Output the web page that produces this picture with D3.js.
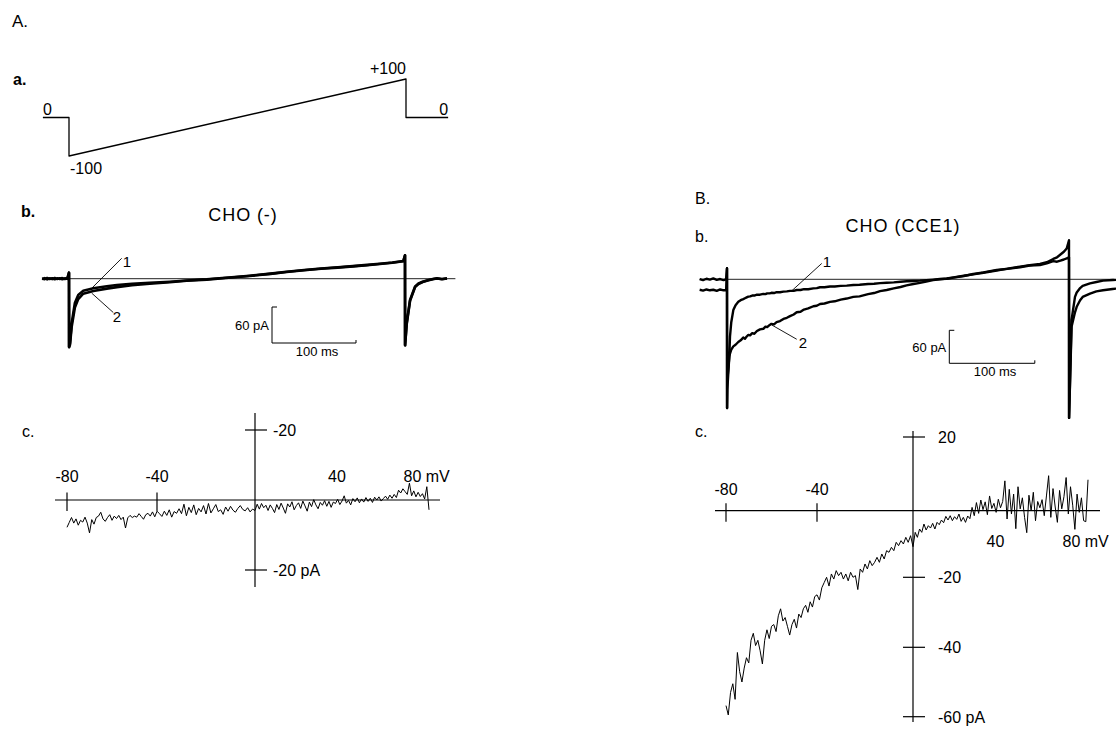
<!DOCTYPE html>
<html>
<head>
<meta charset="utf-8">
<title>CHO ramp currents</title>
<script src="https://cdn.jsdelivr.net/npm/d3@7/dist/d3.min.js"></script>
<style>
body { margin: 0; background: #fff; }
svg { display: block; font-family: "Liberation Sans", Arial, sans-serif; }
.trace { fill: none; stroke: #000; stroke-linejoin: round; }
.ref { stroke: #222; stroke-width: 1; }
.axis { stroke: #000; stroke-width: 1.2; fill: none; }
</style>
</head>
<body>
<script>
// voltage protocol (ms, mV)
var protoTime = [-31, 0, 0, 400, 400, 450];
var protoMv = [0, 0, -100, 100, 0, 0];

// A.b  CHO (-) ramp currents (ms, pA)
var abTime = [-32, -29, -26, -23, -20, -17, -14, -11, -8, -5, -2, 0, 0.1,
    1.2, 3.2, 7, 11, 17, 29, 45, 57, 75, 96, 120, 140, 164, 190, 215, 240, 259,
    280, 300, 320, 338, 355, 370, 385, 398, 400, 400.1,
    402, 406, 412, 416, 421, 427, 433, 438, 444, 450];
var abTrace1 = [0.5, -0.8, 1.2, -0.5, 0.8, -1.0, 0.6, -0.4, 1.0, -0.6, 0.3, 10, -114,
    -107, -74, -40.5, -27, -20, -16, -12.5, -10.5, -8.5, -7, -5, -3, -1, 2, 5, 8.5, 11.7,
    14.5, 17, 19, 21, 23, 25, 27, 29.5, 39, -111,
    -74, -35.5, -13, -8, -5, -2.5, -0.5, 0.6, -0.4, 0.3];
var abTrace2 = [-0.4, 0.9, -1.1, 0.6, -0.7, 1.1, -0.5, 0.7, -0.9, 0.5, -0.2, 10, -114,
    -110, -80, -48, -34, -25, -20.5, -16.5, -14, -11, -8.5, -6, -3.5, -1.5, 1.5, 4.5, 8, 11.2,
    14, 16.5, 18.5, 20.5, 22.5, 24.5, 26.5, 29, 39, -111,
    -76, -37, -14, -9, -5.5, -3, -1, 0.2, -0.8, 0.5];

// B.b  CHO (CCE1) ramp currents (ms, pA)
var bbTime = [-32, -28, -24, -20, -16, -12, -8, -4, -1,
    0, 0.1, 0.4, 2.7, 3.5, 5, 7.4, 10, 13.2, 16, 19, 21, 23, 25, 27, 29.5, 32, 35,
    38.6, 42.5, 45, 47, 50, 52, 55, 58, 62, 66, 70, 73.7, 78, 81.5, 86, 90, 95, 101,
    105, 108.8, 114, 120.5, 126, 133, 140, 147.7, 155, 165, 172, 179, 186.8, 195, 203,
    210, 218, 225.7, 233, 241, 249, 257, 265, 277, 288, 300, 315.4, 328, 342.7, 354,
    366, 374, 381.6, 386, 390, 394, 397.3, 400, 400.1, 403, 407, 409, 413, 416, 424.6,
    432, 439.8, 451, 455];
var bbTrace1 = [0.5, -1.5, 1, -0.5, 1.5, -1, 0.5, -1.5, 0.5,
    20, -234, -200, -140, -104, -78, -56, -47, -41, -38, -36, -34.5, -33, -31.5, -31, -29.5, -29.5, -28,
    -28, -26.5, -27, -25.5, -25.5, -24.5, -25, -23.5, -23.5, -22.5, -22, -21, -21, -19.5, -19.5, -18, -18, -16.5,
    -16, -14.5, -14.5, -13, -13, -12, -11.5, -10.4, -10, -8.5, -8, -7, -6.2, -5.5, -4.5,
    -3.5, -3, -2.5, -1.5, -0.5, 0.5, 1, 3, 6, 9.6, 12.5, 17, 19, 22, 25,
    26, 29, 33, 32, 34, 36, 38, 40, -252, -74, -32, -24, -16, -12, -7.3,
    -5, -2.5, -1.3, -1];
var bbTrace2 = [-19, -20.5, -18.5, -20, -19, -21, -18.5, -20, -19.5,
    20, -234, -183, -141, -135, -128, -122, -119, -114, -111, -106, -108, -104, -101, -102, -98, -99, -94,
    -91, -90, -86, -87, -83, -81, -82, -78, -76, -72, -70, -67, -64, -60, -59, -55, -53, -49,
    -48, -45, -44, -41, -40, -37, -35, -32, -31, -27, -25, -21.5, -19.5, -16.5, -14,
    -11, -8.5, -6.5, -4, -1.5, 0, 1.5, 3.6, 6.5, 9, 12, 16, 19.5, 23, 25.5,
    28, 31, 37, 40, 45, 50, 56, 71, -252, -86, -60, -50, -38, -32, -26,
    -22, -20, -17.6, -17];

// I-V curves, one value per mV from -80 to +80 (pA)
var ivMv = d3.range(-80, 81);
var ivCurrentA = [
    -7.8, -6.4, -5.0, -6.6, -5.4, -7.2, -5.8, -6.3, -4.9, -6.6,
    -9.4, -5.6, -6.9, -5.0, -4.6, -3.5, -5.4, -6.1, -5.0, -4.2,
    -5.8, -4.6, -5.3, -4.4, -5.6, -4.9, -8.0, -5.1, -4.4, -5.0,
    -4.6, -4.9, -3.9, -4.7, -5.5, -4.2, -3.8, -4.6, -3.4, -4.8,
    -3.2, -3.9, -4.7, -3.2, -4.4, -2.8, -4.9, -3.3, -3.8, -2.5,
    -3.9, -1.2, -4.5, -2.1, -3.6, -1.4, -4.2, -2.4, -3.4, -1.6,
    -4.0, -1.0, -3.7, -2.5, -1.3, -3.3, -2.8, -4.1, -2.0, -3.2,
    -1.8, -2.9, -3.5, -2.4, -1.6, -2.7, -3.1, -2.2, -3.4, -2.6,
    -3.0, -1.2, -2.6, -1.0, -2.2, -1.5, -3.0, -1.4, -2.4, -3.6,
    -1.3, -2.7, -0.9, -2.3, -3.8, -1.1, -2.0, -0.5, -2.8, -1.6,
    -0.8, -2.4, -0.3, -1.7, -3.2, -0.6, -1.9, 0.1, -1.4, -2.5,
    -0.7, -1.5, -0.2, -1.8, -0.4, -2.1, -0.6, -1.0, 0.2, -1.3,
    -0.3, 1.2, -0.9, -0.1, -1.4, 0.4, -0.5, 0.6, -0.8, 0.3,
    -0.6, 0.7, -0.4, 0.5, -0.7, 0.8, 0.0, 0.9, -0.3, 0.4,
    1.1, 0.2, 1.4, 0.5, 1.6, 0.7, 2.8, 2.0, 3.2, 2.4,
    1.6, 4.8, 1.2, 2.6, 0.9, 2.2, 1.0, 1.8, 0.3, 3.8,
    -2.8];
var ivCurrentB = [
    -56.8, -59.5, -53.0, -50.5, -55.0, -41.5, -47.0, -50.0, -46.0, -43.0,
    -44.5, -38.0, -36.0, -39.5, -38.0, -41.0, -44.8, -38.0, -35.0, -37.5,
    -34.0, -33.5, -35.5, -31.0, -29.0, -32.5, -31.5, -34.0, -36.5, -33.5,
    -32.0, -34.5, -30.5, -31.5, -29.0, -28.0, -30.0, -27.0, -28.5, -25.5,
    -25.0, -26.5, -23.0, -21.5, -20.0, -22.5, -19.0, -20.5, -18.0, -19.5,
    -18.5, -20.5, -19.0, -21.0, -18.5, -20.0, -19.5, -23.5, -17.5, -18.5,
    -16.0, -17.5, -15.0, -16.5, -15.5, -14.0, -15.5, -13.0, -14.5, -12.0,
    -12.5, -11.0, -12.0, -9.5, -10.5, -9.0, -10.0, -8.0, -9.5, -7.5,
    -10.8, -6.5, -8.0, -5.5, -6.5, -4.0, -5.8, -4.5, -5.2, -3.8,
    -5.5, -3.5, -4.2, -2.8, -3.6, -1.7, -2.8, -1.5, -3.0, -1.8,
    -2.6, -1.0, -3.2, -2.0, -3.5, -1.6, -2.4, 0.9, -1.5, 2.2,
    -0.8, 2.9, 0.3, 2.4, -1.2, 4.0, 0.6, 2.0, -0.5, 3.1,
    0.8, 2.5, 8.1, -2.5, 5.8, -1.0, 4.5, -5.4, 6.5, 0.5,
    3.5, -2.0, -6.6, 4.2, 0.0, 5.0, -3.0, 2.5, 0.8, 3.0,
    -1.5, 4.0, 9.5, -2.0, 6.0, 1.0, -3.5, 5.5, 0.5, 3.8,
    9.0, -1.0, 6.5, 1.5, -5.6, 4.5, -0.5, 3.5, -3.0, -3.3,
    8.4];

// tick values and labels of the I-V plots
var ivXTicks = [-80, -40];
var ivXLabelValues = [-80, -40, 40, 80];
var ivXLabels = ["-80", "-40", "40", "80 mV"];
var ivYTicksA = [20, -20];
var ivYLabelsA = ["-20", "-20 pA"];
var ivYTicksB = [20, -20, -40, -60];
var ivYLabelsB = ["20", "-20", "-40", "-60 pA"];

window.onload = function() {
    drawFigure();
};

function drawFigure() {

    var width = 1116,
        height = 731;

    var svg = d3.select("body")
        .append("svg")
        .attr("width", width)
        .attr("height", height);

    //small helper for text
    function label(txt, x, y, size, anchor, weight, spacing) {
        return svg.append("text")
            .attr("x", x)
            .attr("y", y)
            .attr("font-size", size)
            .attr("text-anchor", anchor || "start")
            .attr("font-weight", weight || "normal")
            .attr("letter-spacing", spacing || 0)
            .text(txt);
    }

    //draw a trace from parallel x / y arrays
    function trace(xs, ys, x, y, w) {
        var line = d3.line()
            .x(function(d, i) { return x(xs[i]); })
            .y(function(d) { return y(d); });
        svg.append("path")
            .datum(ys)
            .attr("class", "trace")
            .attr("stroke-width", w)
            .attr("d", line);
    }

    //panel letters
    label("A.", 12, 27, 17);
    label("a.", 13, 85, 16, "start", "bold");
    label("b.", 21, 217, 16, "start", "bold");
    label("c.", 22, 437, 16);
    label("B.", 695, 204, 16);
    label("b.", 695, 242, 16);
    label("c.", 695, 437, 16);

    // ---- A.a voltage protocol ----
    var xProto = d3.scaleLinear().domain([0, 400]).range([69, 406]);
    var yProto = d3.scaleLinear().domain([-100, 100]).range([156, 79]);
    trace(protoTime, protoMv, xProto, yProto, 1.3);
    label("0", xProto(-31), yProto(0) - 3, 16);
    label("0", xProto(450), yProto(0) - 3, 16, "end");
    label("-100", xProto(0) + 1, yProto(-100) + 18, 16);
    label("+100", xProto(400), yProto(100) - 5, 16, "end");

    // ---- current traces ----
    function currentPanel(opts) {
        var x = d3.scaleLinear().domain([0, 400]).range(opts.xr);
        var y = d3.scaleLinear().domain([0, 60]).range([opts.y0, opts.y0 - opts.px60]);

        //zero current line
        svg.append("line")
            .attr("class", "ref")
            .attr("x1", x(opts.refFrom)).attr("x2", x(opts.refTo))
            .attr("y1", y(0)).attr("y2", y(0));

        trace(opts.time, opts.t2, x, y, opts.lw);
        trace(opts.time, opts.t1, x, y, opts.lw);

        //labels 1 and 2 with leader lines
        [[opts.lab1, "1"], [opts.lab2, "2"]].forEach(function(l) {
            var a = l[0],
                ax = x(a.t), ay = y(a.v);
            svg.append("line")
                .attr("stroke", "#000").attr("stroke-width", 0.9)
                .attr("x1", ax).attr("y1", ay)
                .attr("x2", ax + a.dx).attr("y2", ay + a.dy);
            label(l[1], ax + a.tx, ay + a.ty, 15);
        });

        //scale bar 60 pA / 100 ms
        var bx = opts.bar[0], by = opts.bar[1],
            bh = y(0) - y(60), bw = x(100) - x(0);
        svg.append("path")
            .attr("fill", "none").attr("stroke", "#000").attr("stroke-width", 1)
            .attr("d", "M" + (bx + 5) + "," + (by - bh) + "H" + bx + "V" + by +
                "H" + (bx + bw) + "V" + (by - 3));
        label("60 pA", bx - 3, by - bh / 2 + 5, 13, "end");
        label("100 ms", bx + bw / 2 + 3, by + 13, 13, "middle");
    }

    label("CHO (-)", 243, 221, 18, "middle", "normal", 0.9);
    currentPanel({
        xr: [69, 405], y0: 278.7, px60: 36, lw: 2.6,
        refFrom: -32, refTo: 460,
        time: abTime, t1: abTrace1, t2: abTrace2,
        lab1: {t: 27, v: -16, dx: 30, dy: -30, tx: 31, ty: -21},
        lab2: {t: 27, v: -24, dx: 21.6, dy: 19.4, tx: 21, ty: 29},
        bar: [272, 343]
    });

    label("CHO (CCE1)", 903, 232, 18, "middle", "normal", 1);
    currentPanel({
        xr: [727, 1069], y0: 279.3, px60: 33, lw: 2.4,
        refFrom: -32, refTo: 453,
        time: bbTime, t1: bbTrace1, t2: bbTrace2,
        lab1: {t: 75.7, v: -21, dx: 30, dy: -27.4, tx: 31, ty: -24},
        lab2: {t: 52.3, v: -83, dx: 25, dy: 14.3, tx: 27, ty: 23},
        bar: [949.3, 363.3]
    });

    // ---- I-V plots ----
    function ivPanel(opts) {
        var x = opts.x, y = opts.y,
            x0 = x(0), y0 = y(0);

        svg.append("line").attr("class", "axis")
            .attr("x1", opts.xAxis[0]).attr("x2", opts.xAxis[1])
            .attr("y1", y0).attr("y2", y0);
        svg.append("line").attr("class", "axis")
            .attr("x1", x0).attr("x2", x0)
            .attr("y1", opts.yAxis[0]).attr("y2", opts.yAxis[1]);

        ivXTicks.forEach(function(v) {
            svg.append("line").attr("class", "axis")
                .attr("x1", x(v)).attr("x2", x(v))
                .attr("y1", y0 - 7.5).attr("y2", y0 + 11);
        });
        opts.yTicks.forEach(function(v, i) {
            svg.append("line").attr("class", "axis")
                .attr("x1", x0 - 10).attr("x2", x0 + 12)
                .attr("y1", y(v)).attr("y2", y(v));
            label(opts.yLabels[i], x0 + opts.yLabelDx, y(v) + 6, 16);
        });
        ivXLabelValues.forEach(function(v, i) {
            var below = v > 0 && opts.posBelow,
                ly = below ? y0 + 36 : y0 - opts.negAbove;
            if (v < 0) label(ivXLabels[i], x(v), ly, 16, "middle");
            else if (v < 80) label(ivXLabels[i], x(v) - 5, ly, 16, "middle");
            else label(ivXLabels[i], x(v) - 25.5, ly, 16);
        });

        trace(ivMv, opts.values, x, y, 1);
    }

    ivPanel({
        x: d3.scaleLinear().domain([-80, -40, 0, 80]).range([67, 157, 255, 429]),
        y: d3.scaleLinear().domain([-20, 20]).range([570, 430]),
        xAxis: [55, 440], yAxis: [413, 587],
        yTicks: ivYTicksA, yLabels: ivYLabelsA, yLabelDx: 18,
        posBelow: false, negAbove: 18,
        values: ivCurrentA
    });

    ivPanel({
        x: d3.scaleLinear().domain([-80, -40, 0, 80]).range([726, 817, 913, 1088]),
        y: d3.scaleLinear().domain([-60, -40, -20, 0, 20]).range([716.7, 647.3, 577.3, 510.7, 437]),
        xAxis: [715, 1100], yAxis: [431, 722],
        yTicks: ivYTicksB, yLabels: ivYLabelsB, yLabelDx: 25,
        posBelow: true, negAbove: 15.5,
        values: ivCurrentB
    });
}
</script>
</body>
</html>
